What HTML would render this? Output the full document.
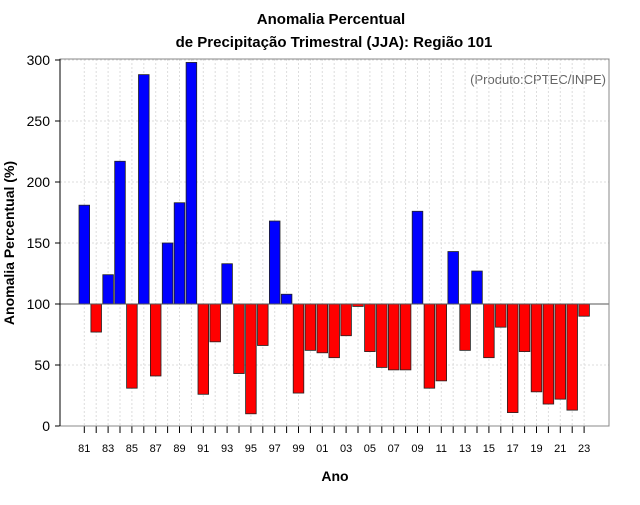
<!DOCTYPE html>
<html><head><meta charset="utf-8"><style>
body{margin:0;background:#fff;font-family:"Liberation Sans",sans-serif}
</style></head><body>
<svg id="c" width="640" height="500" xmlns="http://www.w3.org/2000/svg">
<text x="331" y="24" text-anchor="middle" font-size="15" font-weight="bold">Anomalia Percentual</text>
<text x="334" y="47" text-anchor="middle" font-size="15" font-weight="bold">de Precipitação Trimestral (JJA): Região 101</text>
<text x="606" y="84" text-anchor="end" font-size="13" fill="#666">(Produto:CPTEC/INPE)</text>
<text x="335" y="481" text-anchor="middle" font-size="14" font-weight="bold">Ano</text>
<text transform="translate(14,243) rotate(-90)" text-anchor="middle" font-size="14" font-weight="bold">Anomalia Percentual (%)</text>
<g id="grid"></g><g id="bars"></g><g id="axes"></g>
</svg>
<script>
const years=[1981,1982,1983,1984,1985,1986,1987,1988,1989,1990,1991,1992,1993,1994,1995,1996,1997,1998,1999,2000,2001,2002,2003,2004,2005,2006,2007,2008,2009,2010,2011,2012,2013,2014,2015,2016,2017,2018,2019,2020,2021,2022,2023];
const values=[181,77,124,217,31,288,41,150,183,298,26,69,133,43,10,66,168,108,27,62,60,56,74,98,61,48,46,46,176,31,37,143,62,127,56,81,11,61,28,18,22,13,90];
const yTicks=[0,50,100,150,200,250,300];
const baseline=100;
const NS="http://www.w3.org/2000/svg";
const L=60,R=609,T=59,B=426;
const y=v=>B-(v/300)*(B-60);
const x=yr=>84.3+(yr-1981)*11.9;
function mk(tag,attrs,parent){const e=document.createElementNS(NS,tag);for(const k in attrs)e.setAttribute(k,attrs[k]);parent.appendChild(e);return e;}
const grid=document.getElementById('grid'),bars=document.getElementById('bars'),axes=document.getElementById('axes');
years.forEach(yr=>{const l=mk('line',{x1:x(yr),x2:x(yr),y1:T,y2:B,stroke:'#ddd','stroke-dasharray':'2,2'},grid);

});
yTicks.forEach(t=>{const l=mk('line',{x1:L,x2:R,y1:y(t),y2:y(t),stroke:'#ddd','stroke-dasharray':'2,2'},grid);


const tk=mk('line',{x1:L-5,x2:L,y1:y(t),y2:y(t),stroke:'#000'},axes);


const tx=mk('text',{x:L-10,y:y(t)+5,'text-anchor':'end','font-size':'14'},axes);tx.textContent=t;

});
years.forEach((yr,i)=>{const v=values[i];const top=y(Math.max(v,baseline)),bot=y(Math.min(v,baseline));
const r=mk('rect',{x:x(yr)-5.3,y:top,width:10.6,height:Math.max(bot-top,0.5),fill:v>=baseline?'#0000ff':'#ff0000',stroke:'#222','stroke-width':'0.8'},bars);


const tk=mk('line',{x1:x(yr),x2:x(yr),y1:B,y2:B+7,stroke:'#000'},axes);


if(i%2===0){const tx=mk('text',{x:x(yr),y:B+26,'text-anchor':'middle','font-size':'11'},axes);tx.textContent=String(yr).slice(2);

}});
const bl=mk('line',{x1:L,x2:R,y1:y(baseline),y2:y(baseline),stroke:'#555'},axes);


const fr=mk('rect',{x:L,y:T,width:R-L,height:B-T,fill:'none',stroke:'#888','stroke-width':'1'},axes);


const ax=mk('line',{x1:L,x2:L,y1:T,y2:B,stroke:'#000'},axes);


</script>
</body></html>
